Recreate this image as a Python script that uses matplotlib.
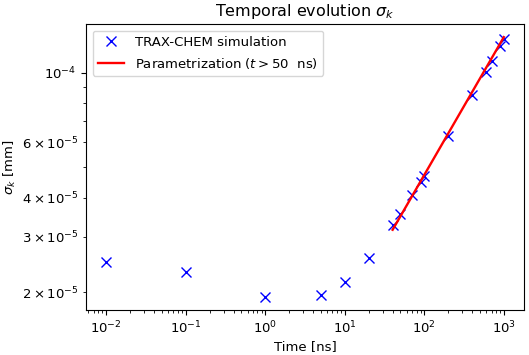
import numpy as np
import matplotlib.pyplot as plt

# TRAX-CHEM simulation points
time_ns = [0.01, 0.1, 1, 5, 10, 20, 40, 50, 70, 90, 100, 200, 400, 600, 700, 900, 1000]
sigma_mm = [2.49e-5, 2.31e-5, 1.93e-5, 1.96e-5, 2.16e-5, 2.56e-5, 3.28e-5, 3.56e-5,
            4.07e-5, 4.48e-5, 4.68e-5, 6.3e-5, 8.5e-5, 1.01e-4, 1.09e-4, 1.22e-4, 1.285e-4]

# parametrization line end points (power law -> straight on log-log)
fit_t = [40, 1000]
fit_sigma = [3.16e-5, 1.30e-4]

plt.rcParams["font.size"] = 9.5

fig, ax = plt.subplots(figsize=(5.29, 3.55), dpi=100)

ax.plot(time_ns, sigma_mm, "x", color="blue", markersize=6.5, label="TRAX-CHEM simulation")
ax.plot(fit_t, fit_sigma, "-", color="red", linewidth=1.7, label="Parametrization ($t > 50$  ns)")

ax.set_xscale("log")
ax.set_yscale("log")
ax.set_xlabel("Time [ns]", labelpad=3)
ax.set_ylabel(r"$\sigma_k$ [mm]", labelpad=3)
ax.set_title(r"Temporal evolution $\sigma_k$", fontsize=11.5)
ax.legend(loc="upper left")

fig.subplots_adjust(left=0.163, right=0.990, top=0.932, bottom=0.127)
plt.savefig("out.png", dpi=100)
